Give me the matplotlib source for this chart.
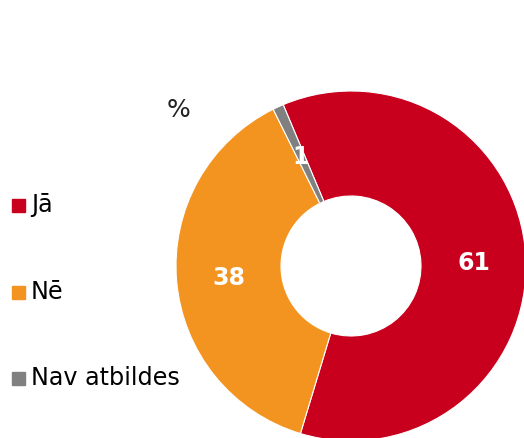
import matplotlib.pyplot as plt
from matplotlib.patches import Rectangle

# Data
labels = ['Jā', 'Nē', 'Nav atbildes']
values = [61, 38, 1]
colors = ['#C8001E', '#F39320', '#808080']

fig = plt.figure(figsize=(5.24, 4.38), dpi=100)

# Pie axes: centre at (351, 266) px, radius ~175 px
W, H = 524, 438
cx, cy, r = 351, 266, 175
ax = fig.add_axes([(cx - r) / W, (H - cy - r) / H, 2 * r / W, 2 * r / H])
wedges, _ = ax.pie(values, colors=colors, startangle=112.8, counterclock=False,
                   radius=1.0,
                   wedgeprops=dict(width=0.6, edgecolor='white', linewidth=0.8))
ax.set_xlim(-1, 1)
ax.set_ylim(-1, 1)
ax.set_aspect('equal')
ax.axis('off')

# value labels (positions in axes data units)
label_pos = [(0.70, 0.02), (-0.70, -0.07), (-0.29, 0.62)]
for (x, y), v in zip(label_pos, values):
    ax.text(x, y, str(v), color='white', fontsize=17, fontweight='bold',
            ha='center', va='center')

fig.text(178 / W, 1 - 110 / H, '%', fontsize=18, ha='center', va='center',
         color='#222222')

# legend
leg_y = [205, 292, 378]
for lab, c, y in zip(labels, colors, leg_y):
    fig.patches.append(Rectangle((12 / W, 1 - (y + 7) / H), 13 / W, 13 / H,
                                 transform=fig.transFigure, color=c))
    fig.text(31 / W, 1 - y / H, lab, fontsize=17.2, ha='left', va='center',
             color='black')

fig.savefig('out.png', dpi=100)
